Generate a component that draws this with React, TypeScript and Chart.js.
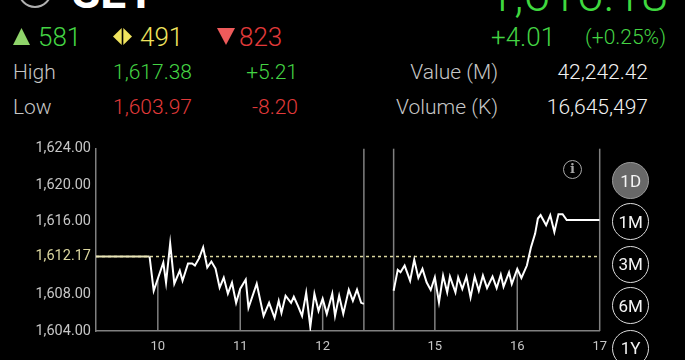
import React, { useEffect, useRef } from "react";
import { Chart, registerables } from "chart.js";

Chart.register(...registerables);

// ---------- header data ----------
const INDEX_NAME = "SET";
const LAST_PRICE = "1,616.18";
const CHANGE = "+4.01";
const CHANGE_PCT = "(+0.25%)";
const ADVANCES = "581";
const UNCHANGED = "491";
const DECLINES = "823";
const HIGH_VALUE = "1,617.38";
const HIGH_CHANGE = "+5.21";
const LOW_VALUE = "1,603.97";
const LOW_CHANGE = "-8.20";
const TRADE_VALUE = "42,242.42";
const TRADE_VOLUME = "16,645,497";
const PERIODS = ["1D", "1M", "3M", "6M", "1Y"];

// ---------- chart data ----------
const PREV_CLOSE = 1612.17;
const Y_TICKS = [1604, 1608, 1612.17, 1616, 1620, 1624];
const X_TICK_TIMES = ["10:00", "11:00", "12:00", "15:00", "16:00", "17:00"];
const X_TICK_LABELS = ["10", "11", "12", "15", "16", "17"];
const DROP_TIMES = ["10:00", "11:00", "12:00", "15:00", "16:00"];
const BREAK_TIMES = ["12:30", "14:30"];
const AXIS_START = "09:15";
const AXIS_END = "17:00";

const MORNING_TIMES = [
  "09:15", "09:54", "09:57", "10:04", "10:06", "10:09", "10:12", "10:16", "10:18", "10:22",
  "10:25", "10:27", "10:30", "10:33", "10:36", "10:39", "10:42", "10:45", "10:48", "10:51",
  "10:54", "10:57", "11:00", "11:04", "11:06", "11:12", "11:17", "11:21", "11:25", "11:28",
  "11:30", "11:33", "11:37", "11:39", "11:42", "11:45", "11:48", "11:51", "11:54", "11:57",
  "12:00", "12:03", "12:07", "12:09", "12:12", "12:15", "12:19", "12:22", "12:25", "12:28",
  "12:30",
];
const MORNING_VALUES = [
  1612.17, 1612.17, 1608.42, 1611.51, 1609.3, 1613.61, 1609.19, 1610.63, 1609.52, 1611.4,
  1611.4, 1611.18, 1611.96, 1613.17, 1610.96, 1611.62, 1610.85, 1608.75, 1609.86, 1608.09,
  1609.3, 1607.09, 1608.64, 1609.64, 1606.54, 1609.19, 1605.66, 1607.09, 1605.44, 1607.31,
  1605.99, 1607.87, 1607.09, 1607.76, 1606.76, 1605.66, 1608.2, 1604.44, 1608.09, 1606.21,
  1607.54, 1605.88, 1608.09, 1605.66, 1607.87, 1605.88, 1608.53, 1607.31, 1608.53, 1607.09,
  1606.98,
];
const AFTERNOON_TIMES = [
  "14:30", "14:33", "14:35", "14:38", "14:42", "14:45", "14:48", "14:51", "14:54", "14:57",
  "15:00", "15:03", "15:06", "15:09", "15:11", "15:15", "15:17", "15:20", "15:23", "15:26",
  "15:29", "15:32", "15:35", "15:38", "15:42", "15:45", "15:48", "15:50", "15:54", "15:56",
  "16:00", "16:03", "16:07", "16:10", "16:13", "16:15", "16:17", "16:21", "16:24", "16:27",
  "16:30", "16:33", "16:36", "17:00",
];
const AFTERNOON_VALUES = [
  1608.42, 1610.71, 1610.44, 1611.18, 1609.52, 1611.81, 1609.82, 1610.82, 1609.34, 1608.5,
  1609.89, 1607.13, 1610.08, 1608.23, 1609.97, 1608.23, 1609.89, 1608.61, 1609.97, 1607.68,
  1609.97, 1608.42, 1610.08, 1608.72, 1609.97, 1608.72, 1610.19, 1608.86, 1610.44, 1609.16,
  1610.82, 1609.82, 1611.18, 1613.2, 1614.69, 1616.34, 1616.71, 1615.6, 1616.71, 1614.86,
  1616.82, 1616.82, 1616.18, 1616.18,
];

// lunch break is compressed on the time axis
const LUNCH_END_HOUR = 14.5;
const LUNCH_COMPRESS_HOURS = 1.639;

function toAxis(t: string): number {
  const [h, m] = t.split(":").map(Number);
  const v = h + m / 60;
  return v >= LUNCH_END_HOUR ? v - LUNCH_COMPRESS_HOURS : v;
}

const ALL_TIMES = [...MORNING_TIMES, ...AFTERNOON_TIMES];
const ALL_VALUES = [...MORNING_VALUES, ...AFTERNOON_VALUES];

function valueAt(t: string): number {
  const target = toAxis(t);
  for (let i = 0; i < ALL_TIMES.length - 1; i++) {
    const a = toAxis(ALL_TIMES[i]);
    const b = toAxis(ALL_TIMES[i + 1]);
    if (target >= a && target <= b) {
      if (b === a) return ALL_VALUES[i];
      const f = (target - a) / (b - a);
      return ALL_VALUES[i] + f * (ALL_VALUES[i + 1] - ALL_VALUES[i]);
    }
  }
  return ALL_VALUES[ALL_VALUES.length - 1];
}

const FONT = "Roboto, 'Liberation Sans', sans-serif";
const GREEN = "#44d444";
const RED = "#e23a3a";
const YELLOW = "#efe35e";
const GRAY = "#c6c6c6";
const CREAM = "#dcd79f";
const AXIS_GRAY = "#808080";

const linesPlugin = {
  id: "sessionLines",
  beforeDatasetsDraw(chart: any) {
    const { ctx, chartArea, scales } = chart;
    const x = scales.x;
    const y = scales.y;
    ctx.save();
    ctx.strokeStyle = AXIS_GRAY;
    ctx.lineWidth = 1.5;
    [...BREAK_TIMES, AXIS_END].forEach((t) => {
      const px = x.getPixelForValue(toAxis(t));
      ctx.beginPath();
      ctx.moveTo(px, chartArea.top);
      ctx.lineTo(px, chartArea.bottom);
      ctx.stroke();
    });
    DROP_TIMES.forEach((t) => {
      const px = x.getPixelForValue(toAxis(t));
      const py = y.getPixelForValue(valueAt(t));
      ctx.beginPath();
      ctx.moveTo(px, chartArea.bottom);
      ctx.lineTo(px, py);
      ctx.stroke();
    });
    ctx.restore();
  },
};

function PriceChart() {
  const ref = useRef<HTMLCanvasElement | null>(null);
  useEffect(() => {
    if (!ref.current) return;
    const chart = new Chart(ref.current, {
      type: "line",
      data: {
        datasets: [
          {
            label: "morning",
            data: MORNING_TIMES.map((t, i) => ({ x: toAxis(t), y: MORNING_VALUES[i] })),
            borderColor: "#ffffff",
            borderWidth: 2,
            pointRadius: 0,
            tension: 0,
            order: 1,
            segment: {
              borderColor: (c: any) => (c.p1DataIndex <= 1 ? "#e9e5b8" : "#ffffff"),
            },
          },
          {
            label: "afternoon",
            data: AFTERNOON_TIMES.map((t, i) => ({ x: toAxis(t), y: AFTERNOON_VALUES[i] })),
            borderColor: "#ffffff",
            borderWidth: 2,
            pointRadius: 0,
            tension: 0,
            order: 1,
          },
          {
            label: "prev close",
            data: [
              { x: toAxis(AXIS_START), y: PREV_CLOSE },
              { x: toAxis(AXIS_END), y: PREV_CLOSE },
            ],
            borderColor: CREAM,
            borderWidth: 1.5,
            borderDash: [3, 3],
            pointRadius: 0,
            order: 2,
          },
        ],
      },
      options: {
        animation: false,
        responsive: false,
        devicePixelRatio: 1,
        layout: { padding: { top: 0, right: 12, bottom: 0, left: 0 } },
        plugins: { legend: { display: false }, tooltip: { enabled: false } },
        scales: {
          x: {
            type: "linear",
            min: toAxis(AXIS_START),
            max: toAxis(AXIS_END),
            grid: { display: false, drawTicks: false },
            border: { display: true, color: AXIS_GRAY, width: 1.5 },
            afterBuildTicks: (s: any) => {
              s.ticks = X_TICK_TIMES.map((t) => ({ value: toAxis(t) }));
            },
            afterFit: (s: any) => {
              s.height = 30;
            },
            ticks: {
              autoSkip: false,
              maxRotation: 0,
              padding: 8,
              color: GRAY,
              font: { family: FONT, size: 13, weight: 400 as any },
              callback: (_v: any, i: number) => X_TICK_LABELS[i],
            },
          },
          y: {
            min: 1604,
            max: 1624,
            grid: { display: false, drawTicks: false },
            border: { display: true, color: AXIS_GRAY, width: 1.5 },
            afterBuildTicks: (s: any) => {
              s.ticks = Y_TICKS.map((v) => ({ value: v }));
            },
            afterFit: (s: any) => {
              s.width = 96;
            },
            ticks: {
              padding: 5,
              color: (c: any) => (c.tick && c.tick.value === PREV_CLOSE ? CREAM : GRAY),
              font: { family: FONT, size: 14.5, weight: 400 as any },
              callback: (v: any) =>
                Number(v).toLocaleString("en-US", {
                  minimumFractionDigits: 2,
                  maximumFractionDigits: 2,
                }),
            },
          },
        },
      },
      plugins: [linesPlugin],
    });
    return () => chart.destroy();
  }, []);
  return (
    <canvas
      ref={ref}
      width={615}
      height={226}
      style={{ position: "absolute", left: 0, top: 135, width: 615, height: 226 }}
    />
  );
}

function T(props: {
  children: React.ReactNode;
  size: number;
  color: string;
  top: number;
  left?: number;
  right?: number;
  weight?: number;
}) {
  const { children, size, color, top, left, right, weight } = props;
  return (
    <span
      style={{
        position: "absolute",
        top,
        left,
        right: right !== undefined ? 685 - right : undefined,
        fontSize: size,
        lineHeight: 1,
        color,
        fontWeight: weight ?? 300,
        whiteSpace: "nowrap",
        fontFamily: FONT,
      }}
    >
      {children}
    </span>
  );
}

export default function App() {
  const btnTops = [180.7, 221.7, 264, 305.7, 348];
  return (
    <div
      style={{
        position: "fixed",
        left: 0,
        top: 0,
        width: 685,
        height: 360,
        background: "#000",
        overflow: "hidden",
        fontFamily: FONT,
      }}
    >
      {/* top row (cut off) */}
      <div
        style={{
          position: "absolute",
          left: 18,
          top: -26,
          width: 34,
          height: 34,
          borderRadius: "50%",
          border: "2px solid #b0b0b0",
          boxSizing: "border-box",
        }}
      />
      <T size={46} color="#ffffff" top={-31} left={72} weight={700}>
        {INDEX_NAME}
      </T>
      <T size={48} color="#3fd83f" top={-29.4} right={668}>
        {LAST_PRICE}
      </T>

      {/* breadth row */}
      <svg style={{ position: "absolute", left: 12, top: 28 }} width={20} height={18}>
        <polygon points="1,17 9.5,0 18,17" fill="#8fd46a" />
      </svg>
      <T size={26} color={GREEN} top={23.5} left={38}>
        {ADVANCES}
      </T>
      <svg style={{ position: "absolute", left: 113, top: 28 }} width={20} height={18}>
        <polygon points="0,8.5 8.7,0 8.7,17" fill={YELLOW} />
        <polygon points="10.3,0 19,8.5 10.3,17" fill={YELLOW} />
      </svg>
      <T size={26} color={YELLOW} top={23.5} left={140}>
        {UNCHANGED}
      </T>
      <svg style={{ position: "absolute", left: 216, top: 28 }} width={20} height={18}>
        <polygon points="1,0 19,0 10,17" fill="#ee5b5b" />
      </svg>
      <T size={26} color={RED} top={23.5} left={239}>
        {DECLINES}
      </T>
      <T size={26} color={GREEN} top={24} left={491}>
        {CHANGE}
      </T>
      <T size={21} color={GREEN} top={27.3} right={666}>
        {CHANGE_PCT}
      </T>

      {/* high row */}
      <T size={21} color={GRAY} top={62.3} left={13}>
        High
      </T>
      <T size={21} color={GREEN} top={62.3} right={192}>
        {HIGH_VALUE}
      </T>
      <T size={21} color={GREEN} top={62.3} right={298}>
        {HIGH_CHANGE}
      </T>
      <T size={21} color={GRAY} top={62.3} right={498}>
        Value (M)
      </T>
      <T size={21} color="#f2f2f2" top={62.3} right={648}>
        {TRADE_VALUE}
      </T>

      {/* low row */}
      <T size={21} color={GRAY} top={97.3} left={13}>
        Low
      </T>
      <T size={21} color={RED} top={97.3} right={192}>
        {LOW_VALUE}
      </T>
      <T size={21} color={RED} top={97.3} right={298}>
        {LOW_CHANGE}
      </T>
      <T size={21} color={GRAY} top={97.3} right={498}>
        Volume (K)
      </T>
      <T size={21} color="#f2f2f2" top={97.3} right={648}>
        {TRADE_VOLUME}
      </T>

      <PriceChart />

      {/* info icon */}
      <div
        style={{
          position: "absolute",
          left: 563,
          top: 159.5,
          width: 19,
          height: 19,
          borderRadius: "50%",
          border: "1.5px solid #a8a8a8",
          boxSizing: "border-box",
          color: "#a8a8a8",
          fontFamily: "'DejaVu Serif', serif",
          fontSize: 13,
          lineHeight: "16px",
          textAlign: "center",
          fontWeight: 700,
        }}
      >
        i
      </div>

      {/* period buttons */}
      {PERIODS.map((p, i) => (
        <div
          key={p}
          style={{
            position: "absolute",
            left: 612.2,
            top: btnTops[i] - 18.5,
            width: 37,
            height: 37,
            borderRadius: "50%",
            border: i === 0 ? "1.5px solid #9a9a9a" : "1.5px solid #dcdcdc",
            background: i === 0 ? "#686868" : "#000",
            boxSizing: "border-box",
            color: "#f4f4f4",
            fontSize: 17,
            fontWeight: 400,
            display: "flex",
            alignItems: "center",
            justifyContent: "center",
            fontFamily: FONT,
          }}
        >
          {p}
        </div>
      ))}
    </div>
  );
}
